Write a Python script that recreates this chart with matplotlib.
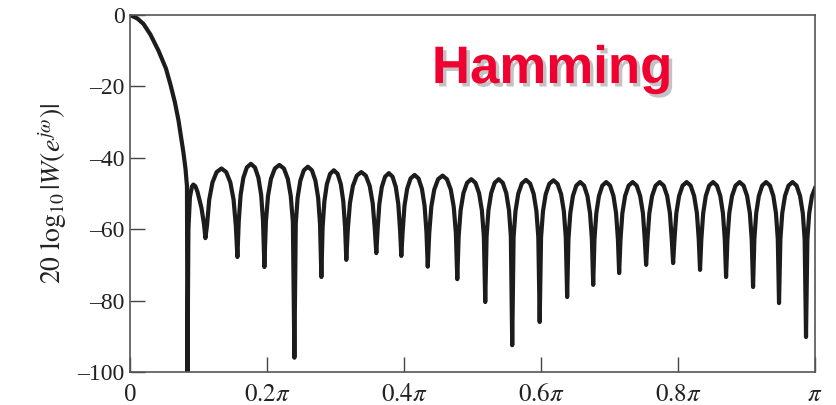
import matplotlib
matplotlib.use("Agg")
import matplotlib.pyplot as plt
import matplotlib.patheffects as pe

# frequency in units of pi, magnitude in dB, traced one lobe per row
freq_pi = [
    0.0, 0.0109, 0.0197, 0.0299, 0.0416, 0.0525, 0.0591, 0.0656, 0.0708, 0.0744, 0.0780, 0.0810, 0.0832,
    0.0839, 0.0853, 0.0875, 0.0905, 0.0926, 0.0955, 0.0985, 0.1043, 0.1080,
    0.1101, 0.1124, 0.1157, 0.1204, 0.1265, 0.1335, 0.1405, 0.1465, 0.1512, 0.1545,
    0.1568, 0.1588, 0.1615, 0.1655, 0.1706, 0.1765, 0.1824, 0.1875, 0.1915, 0.1942,
    0.1962, 0.1984, 0.2015, 0.2058, 0.2115, 0.2181, 0.2247, 0.2304, 0.2347, 0.2378,
    0.2400, 0.2420, 0.2447, 0.2487, 0.2538, 0.2597, 0.2656, 0.2707, 0.2747, 0.2774,
    0.2794, 0.2812, 0.2838, 0.2874, 0.2921, 0.2976, 0.3031, 0.3078, 0.3114, 0.3140,
    0.3158, 0.3180, 0.3211, 0.3254, 0.3311, 0.3377, 0.3443, 0.3500, 0.3543, 0.3574,
    0.3596, 0.3614, 0.3640, 0.3676, 0.3724, 0.3779, 0.3833, 0.3881, 0.3917, 0.3943,
    0.3961, 0.3980, 0.4007, 0.4046, 0.4096, 0.4154, 0.4212, 0.4262, 0.4301, 0.4328,
    0.4347, 0.4369, 0.4399, 0.4442, 0.4498, 0.4563, 0.4627, 0.4683, 0.4726, 0.4757,
    0.4778, 0.4798, 0.4827, 0.4868, 0.4921, 0.4982, 0.5043, 0.5096, 0.5137, 0.5166,
    0.5186, 0.5206, 0.5233, 0.5273, 0.5324, 0.5383, 0.5442, 0.5493, 0.5533, 0.5560,
    0.5580, 0.5600, 0.5628, 0.5668, 0.5720, 0.5781, 0.5841, 0.5893, 0.5933, 0.5961,
    0.5981, 0.6001, 0.6029, 0.6069, 0.6121, 0.6182, 0.6242, 0.6294, 0.6334, 0.6362,
    0.6382, 0.6401, 0.6428, 0.6466, 0.6515, 0.6572, 0.6629, 0.6678, 0.6716, 0.6743,
    0.6762, 0.6781, 0.6808, 0.6846, 0.6895, 0.6952, 0.7009, 0.7058, 0.7096, 0.7123,
    0.7141, 0.7161, 0.7188, 0.7228, 0.7279, 0.7338, 0.7397, 0.7448, 0.7488, 0.7515,
    0.7535, 0.7555, 0.7582, 0.7622, 0.7673, 0.7732, 0.7791, 0.7842, 0.7882, 0.7909,
    0.7929, 0.7949, 0.7976, 0.8016, 0.8067, 0.8126, 0.8185, 0.8236, 0.8276, 0.8303,
    0.8322, 0.8341, 0.8368, 0.8406, 0.8455, 0.8512, 0.8569, 0.8618, 0.8656, 0.8683,
    0.8702, 0.8722, 0.8749, 0.8789, 0.8840, 0.8899, 0.8958, 0.9009, 0.9049, 0.9076,
    0.9096, 0.9115, 0.9142, 0.9180, 0.9229, 0.9286, 0.9343, 0.9392, 0.9430, 0.9457,
    0.9475, 0.9495, 0.9522, 0.9562, 0.9613, 0.9672, 0.9731, 0.9782, 0.9822, 0.9849,
    0.9869, 0.9889, 0.9916, 0.9956, 1.0,
]
mag_db = [
    0, -1, -2.5, -5.5, -10, -15, -19.5, -24.5, -29.5, -34, -38.5, -43, -48,
    -100, -60, -51, -48, -47.5, -48, -49.5, -54, -58.5,
    -62.5, -59, -51.7, -46.9, -44, -43, -44, -46.9, -51.7, -59,
    -67.8, -57.7, -50.4, -45.6, -42.7, -41.7, -42.7, -45.6, -50.4, -57.7,
    -70.6, -58, -50.7, -45.9, -43, -42, -43, -45.9, -50.7, -58,
    -96, -58.5, -51.2, -46.4, -43.5, -42.5, -43.5, -46.4, -51.2, -58.5,
    -73.4, -59.5, -52.2, -47.4, -44.5, -43.5, -44.5, -47.4, -52.2, -59.5,
    -68.6, -60, -52.7, -47.9, -45, -44, -45, -47.9, -52.7, -60,
    -66.7, -60.3, -53, -48.2, -45.3, -44.3, -45.3, -48.2, -53, -60.3,
    -67.5, -60.8, -53.5, -48.7, -45.8, -44.8, -45.8, -48.7, -53.5, -60.8,
    -70.5, -61, -53.7, -48.9, -46, -45, -46, -48.9, -53.7, -61,
    -74, -62, -54.7, -49.9, -47, -46, -47, -49.9, -54.7, -62,
    -80.4, -62, -54.7, -49.9, -47, -46, -47, -49.9, -54.7, -62,
    -92.5, -62.2, -54.9, -50.1, -47.2, -46.2, -47.2, -50.1, -54.9, -62.2,
    -86, -62.3, -55, -50.2, -47.3, -46.3, -47.3, -50.2, -55, -62.3,
    -79, -62.8, -55.5, -50.7, -47.8, -46.8, -47.8, -50.7, -55.5, -62.8,
    -75.6, -62.8, -55.5, -50.7, -47.8, -46.8, -47.8, -50.7, -55.5, -62.8,
    -72.3, -62.8, -55.5, -50.7, -47.8, -46.8, -47.8, -50.7, -55.5, -62.8,
    -70, -62.8, -55.5, -50.7, -47.8, -46.8, -47.8, -50.7, -55.5, -62.8,
    -69.5, -62.8, -55.5, -50.7, -47.8, -46.8, -47.8, -50.7, -55.5, -62.8,
    -71.4, -62.8, -55.5, -50.7, -47.8, -46.8, -47.8, -50.7, -55.5, -62.8,
    -73.4, -62.8, -55.5, -50.7, -47.8, -46.8, -47.8, -50.7, -55.5, -62.8,
    -76.2, -62.8, -55.5, -50.7, -47.8, -46.8, -47.8, -50.7, -55.5, -62.8,
    -80.7, -62.8, -55.5, -50.7, -47.8, -46.8, -47.8, -50.7, -55.5, -62.8,
    -90.2, -62.8, -55.5, -50.7, -48.5,
]

x_ticks = [0, 0.2, 0.4, 0.6, 0.8, 1.0]
x_labels = ['0', r'$0.2\pi$', r'$0.4\pi$', r'$0.6\pi$', r'$0.8\pi$', r'$\pi$']
y_ticks = [0, -20, -40, -60, -80, -100]
y_labels = ['0', '\u201320', '\u201340', '\u201360', '\u201380', '\u2013100']

plt.rcParams['font.family'] = 'Liberation Serif'
plt.rcParams['mathtext.fontset'] = 'stix'

fig = plt.figure(figsize=(8.37, 4.05), dpi=100)
ax = fig.add_axes([0.1553, 0.0815, 0.8184, 0.8815])

ax.plot(freq_pi, mag_db, color='#1c1c1c', lw=3.0, solid_joinstyle='round')

ax.set_xlim(0, 1)
ax.set_ylim(-100, 0)
ax.set_xticks(x_ticks)
ax.set_xticklabels(x_labels)
ax.set_yticks(y_ticks)
ax.set_yticklabels(y_labels)
ax.tick_params(direction='in', length=11, width=1, color='#444444',
               labelcolor='#222222')
ax.tick_params(axis='x', pad=9, labelsize=18)
ax.tick_params(axis='y', pad=4, labelsize=17)
for s in ax.spines.values():
    s.set_color('#555555')
    s.set_linewidth(1.2)

ax.set_ylabel(r'$20\ \log_{10}|W(e^{j\omega})|$', fontsize=20, color='#222222', labelpad=6)

fig.text(0.516, 0.795, 'Hamming', family='Liberation Sans', weight='bold',
         fontsize=38, color='#f00030', ha='left', va='baseline',
         path_effects=[pe.withSimplePatchShadow(offset=(2.5, -2.5), shadow_rgbFace='#888888', alpha=0.5)])

fig.savefig('out.png', dpi=100)
